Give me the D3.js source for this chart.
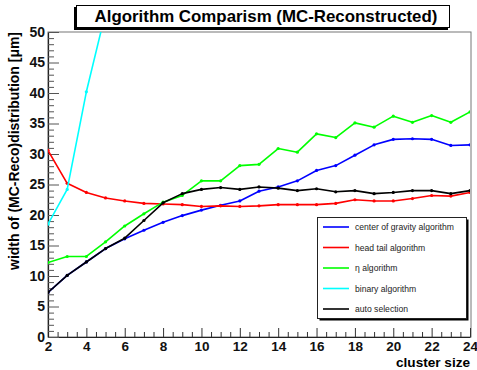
<!DOCTYPE html>
<html><head><meta charset="utf-8">
<script src="https://cdn.jsdelivr.net/npm/d3@7"></script>
<style>body{margin:0;background:#fff}svg{display:block}</style>
</head><body>
<svg id="c" width="477" height="370"></svg>
<script>
const clusterSizes = [2,3,4,5,6,7,8,9,10,11,12,13,14,15,16,17,18,19,20,21,22,23,24];
const centerOfGravity = [7.3,10.1,12.3,14.5,16.1,17.5,18.8,19.9,20.8,21.6,22.3,23.9,24.6,25.6,27.3,28.1,29.8,31.5,32.4,32.5,32.4,31.4,31.5];
const headTail = [30.6,25.2,23.7,22.8,22.3,21.9,21.8,21.7,21.4,21.5,21.4,21.5,21.7,21.7,21.7,21.9,22.5,22.3,22.3,22.7,23.2,23.1,23.7];
const etaAlg = [12.2,13.2,13.2,15.6,18.2,20.2,22.1,23.2,25.6,25.6,28.1,28.3,30.9,30.3,33.3,32.7,35.1,34.4,36.2,35.2,36.3,35.2,36.9];
const binarySizes = [2,3,4,5];
const binaryAlg = [18.5,24.2,40.2,53.2];
const autoSel = [7.3,10.1,12.3,14.5,16.2,19.1,22.0,23.5,24.2,24.5,24.2,24.6,24.4,24.0,24.3,23.8,24.0,23.5,23.7,24.0,24.0,23.5,24.0];
const seriesNames = ["center of gravity algorithm","head tail algorithm","η algorithm","binary algorithm","auto selection"];
const seriesColors = ["#0000ff","#ff0000","#00ff00","#00ffff","#000000"];
const xTicks = [2,4,6,8,10,12,14,16,18,20,22,24];
const yTicks = [0,5,10,15,20,25,30,35,40,45,50];
const titleText = "Algorithm Comparism (MC-Reconstructed)";
const xTitle = "cluster size";
const yTitle = "width of (MC-Reco)distribution [μm]";

const svg = d3.select("#c");
const L=48, R=470, T=32, B=337;
const x = d3.scaleLinear().domain([2,24]).range([L,R]);
const y = d3.scaleLinear().domain([0,50]).range([B,T]);
const BOLD = "'Liberation Sans', Arial, Helvetica, sans-serif";

function fit(sel, target){
  const n = sel.node(); const fs = parseFloat(sel.attr("font-size"));
  const w = n.getComputedTextLength();
  sel.attr("font-size", (fs*target/w).toFixed(2));
}

// frame
svg.append("rect").attr("x",L).attr("y",T).attr("width",R-L+1).attr("height",B-T)
  .attr("fill","none").attr("stroke","#777").attr("stroke-width",1);

// clip
svg.append("clipPath").attr("id","clip").append("rect")
  .attr("x",L).attr("y",T).attr("width",R-L).attr("height",B-T);

// x axis
const xMinor = d3.range(2,24.01,0.5).filter(v=>!xTicks.includes(v));
const xAxisMaj = d3.axisBottom(x).tickValues(xTicks).tickSizeInner(-9).tickSizeOuter(0).tickPadding(4);
const gx = svg.append("g").attr("transform",`translate(0,${B})`).call(xAxisMaj);
gx.select(".domain").attr("stroke","#222").attr("stroke-width",1.2);
gx.selectAll(".tick line").attr("stroke","#333");
gx.selectAll("text").attr("font-family",BOLD).attr("font-weight","bold").attr("font-size",13.5).attr("fill","#111");
const gxm = svg.append("g").attr("transform",`translate(0,${B})`)
  .call(d3.axisBottom(x).tickValues(xMinor).tickSizeInner(-5).tickSizeOuter(0).tickFormat(""));
gxm.select(".domain").remove();
gxm.selectAll(".tick line").attr("stroke","#333");

// y axis
const yMinor = d3.range(0,50.01,1).filter(v=>!yTicks.includes(v));
const gy = svg.append("g").attr("transform",`translate(${L},0)`)
  .call(d3.axisLeft(y).tickValues(yTicks).tickSizeInner(-11).tickSizeOuter(0).tickPadding(3));
gy.select(".domain").attr("stroke","#222").attr("stroke-width",1.2);
gy.selectAll(".tick line").attr("stroke","#555");
gy.selectAll("text").attr("font-family",BOLD).attr("font-weight","bold").attr("font-size",14).attr("fill","#111");
const gym = svg.append("g").attr("transform",`translate(${L},0)`)
  .call(d3.axisLeft(y).tickValues(yMinor).tickSizeInner(-6).tickSizeOuter(0).tickFormat(""));
gym.select(".domain").remove();
gym.selectAll(".tick line").attr("stroke","#555");

// series
const series = [
  {xs:clusterSizes, ys:centerOfGravity},
  {xs:clusterSizes, ys:headTail},
  {xs:clusterSizes, ys:etaAlg},
  {xs:binarySizes, ys:binaryAlg},
  {xs:clusterSizes, ys:autoSel}
];
const line = d3.line().x(d=>x(d[0])).y(d=>y(d[1]));
const gData = svg.append("g").attr("clip-path","url(#clip)");
series.forEach((s,i)=>{
  const pts = s.xs.map((v,j)=>[v,s.ys[j]]);
  gData.append("path").datum(pts).attr("d",line).attr("fill","none")
    .attr("stroke",seriesColors[i]).attr("stroke-width",1.6).attr("stroke-linejoin","round");
  gData.selectAll(null).data(pts).enter().append("circle")
    .attr("cx",d=>x(d[0])).attr("cy",d=>y(d[1])).attr("r",1.6).attr("fill",seriesColors[i]);
});

// title box
svg.append("rect").attr("x",74).attr("y",7).attr("width",374).attr("height",23).attr("fill","#000");
svg.append("rect").attr("x",76.5).attr("y",5.5).attr("width",373).attr("height",22).attr("fill","#fff").attr("stroke","#000");
const tt = svg.append("text").attr("x",266).attr("y",22).attr("text-anchor","middle")
  .attr("font-family",BOLD).attr("font-weight","bold").attr("font-size",15).attr("fill","#000").text(titleText);
fit(tt,343);

// axis titles
const xt = svg.append("text").attr("x",470).attr("y",367).attr("text-anchor","end")
  .attr("font-family",BOLD).attr("font-weight","bold").attr("font-size",14).attr("fill","#000").text(xTitle);
fit(xt,74);
const yt = svg.append("text").attr("transform","translate(18.5,32) rotate(-90)").attr("text-anchor","end")
  .attr("font-family",BOLD).attr("font-weight","bold").attr("font-size",12).attr("fill","#000").text(yTitle);
fit(yt,238);

// legend
const lx=317.5, ly=217.5, lw=149, lh=101;
svg.append("rect").attr("x",lx+2).attr("y",ly+2).attr("width",lw).attr("height",lh).attr("fill","#000");
svg.append("rect").attr("x",lx).attr("y",ly).attr("width",lw).attr("height",lh).attr("fill","#fff").attr("stroke","#222");
const rowY = d3.scalePoint().domain(d3.range(seriesNames.length)).range([227,309]);
let legFs = null;
seriesNames.forEach((n,i)=>{
  const yy = rowY(i);
  svg.append("line").attr("x1",323).attr("x2",349).attr("y1",yy).attr("y2",yy)
    .attr("stroke",seriesColors[i]).attr("stroke-width",1.6);
  const t = svg.append("text").attr("x",355).attr("y",yy).attr("dy","0.35em")
    .attr("font-family","'Liberation Sans', Arial, Helvetica, sans-serif").attr("font-size",legFs||9).attr("fill","#222").text(n);
  if(i===0){ fit(t,99); legFs = t.attr("font-size"); }
});
</script>
</body></html>
